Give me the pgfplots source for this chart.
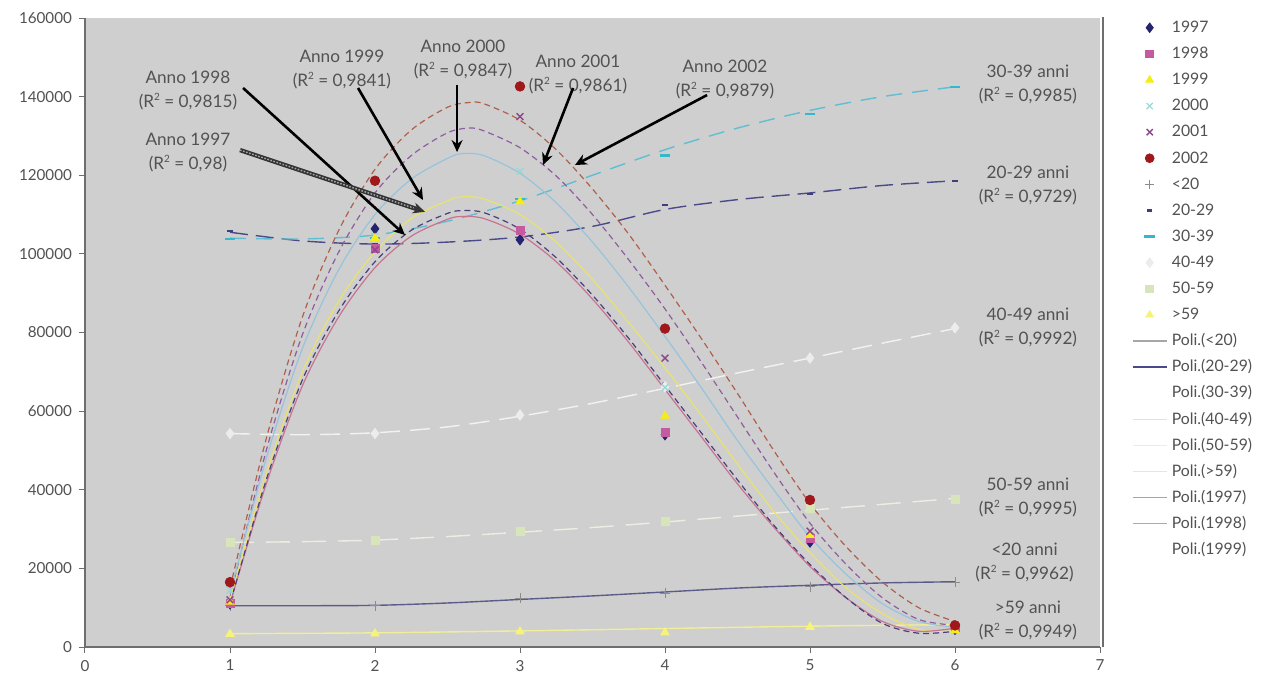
\documentclass[border=0pt]{standalone}
\usepackage{fontspec}
\setmainfont{Lato}
\usepackage{pgfplots}
\pgfplotsset{compat=1.18}
\usetikzlibrary{arrows.meta}

\definecolor{plotgray}{RGB}{207,207,207}
\definecolor{axisgray}{RGB}{110,110,110}
\definecolor{labelgray}{RGB}{82,82,82}
% year markers
\definecolor{c97}{RGB}{36,36,112}
\definecolor{c98}{RGB}{196,90,160}
\definecolor{c99}{RGB}{245,238,20}
\definecolor{c00}{RGB}{150,215,215}
\definecolor{c01}{RGB}{140,70,140}
\definecolor{c02}{RGB}{160,24,28}
% age markers
\definecolor{a20}{RGB}{140,140,140}
\definecolor{a2029}{RGB}{62,62,120}
\definecolor{a3039}{RGB}{50,185,205}
\definecolor{a4049}{RGB}{236,236,236}
\definecolor{a5059}{RGB}{216,228,186}
\definecolor{a59}{RGB}{246,244,120}
% trend lines
\definecolor{t20}{RGB}{92,92,140}
\definecolor{t2029}{RGB}{74,74,138}
\definecolor{t3039}{RGB}{95,190,210}
\definecolor{t4049}{RGB}{242,242,242}
\definecolor{t5059}{RGB}{236,238,228}
\definecolor{t59}{RGB}{240,238,150}
\definecolor{t97}{RGB}{75,62,125}
\definecolor{t98}{RGB}{200,115,145}
\definecolor{t99}{RGB}{232,226,110}
\definecolor{t00}{RGB}{150,196,220}
\definecolor{t01}{RGB}{142,92,160}
\definecolor{t02}{RGB}{176,96,74}

% R squared with a small raised 2
\newcommand{\Rsq}{R\raisebox{0.75ex}{\fontsize{5}{5}\selectfont 2}}

\begin{document}
\begin{tikzpicture}[x=1pt,y=1pt]
\useasboundingbox (-42.5,-17.5) rectangle (588.5,323.5);
\fill[white] (-42.5,-17.5) rectangle (588.5,323.5);
\draw[axisgray, line width=0.8pt] (509,0) -- (509,315);
\begin{axis}[
  at={(0,0)}, anchor=south west,
  scale only axis, width=507.5pt, height=314.5pt,
  xmin=0, xmax=7, ymin=0, ymax=160000,
  xtick={0,1,...,7}, ytick={0,20000,...,160000},
  axis background/.style={fill=plotgray},
  axis x line*=bottom, axis y line*=left,
  axis line style={draw=axisgray, line width=0.6pt, -},
  tick style={axisgray, line width=0.5pt},
  tick align=outside, major tick length=3pt,
  ticklabel style={font=\fontsize{7.6}{9}\selectfont, text=labelgray},
  scaled y ticks=false,
  /pgf/number format/.cd, fixed, precision=0, 1000 sep={}, assume math mode=true,
  /pgfplots/.cd,
  clip mode=individual,
  legend style={at={(1.031,1.002)}, anchor=north west, draw=none, fill=none,
    font=\fontsize{7.9}{10}\selectfont, text=labelgray,
    row sep=2.45pt, inner sep=0pt,
    nodes={inner ysep=1.5pt, inner xsep=2.2pt, text height=6.2pt, text depth=1.4pt}},
  legend cell align=left,
  legend image code/.code={\draw[mark repeat=2,mark phase=2] plot coordinates {(0pt,0pt) (8.5pt,0pt) (17pt,0pt)};},
]

% ---- legend entries ----
\addlegendimage{only marks, mark=diamond*, mark size=2.4pt, color=c97}
\addlegendentry{1997}
\addlegendimage{only marks, mark=square*, mark size=1.9pt, color=c98}
\addlegendentry{1998}
\addlegendimage{only marks, mark=triangle*, mark size=2.2pt, color=c99}
\addlegendentry{1999}
\addlegendimage{only marks, mark=x, mark size=2.2pt, color=c00, line width=0.6pt}
\addlegendentry{2000}
\addlegendimage{only marks, mark=x, mark size=2.2pt, color=c01, line width=0.7pt}
\addlegendentry{2001}
\addlegendimage{only marks, mark=*, mark size=2.2pt, color=c02}
\addlegendentry{2002}
\addlegendimage{only marks, mark=+, mark size=2.4pt, color=a20, line width=0.4pt}
\addlegendentry{<20}
\addlegendimage{only marks, mark=-, mark size=1.3pt, color=a2029, line width=1.2pt}
\addlegendentry{20-29}
\addlegendimage{only marks, mark=-, mark size=2.6pt, color=a3039, line width=1.1pt}
\addlegendentry{30-39}
\addlegendimage{only marks, mark=diamond*, mark size=2.4pt, color=a4049}
\addlegendentry{40-49}
\addlegendimage{only marks, mark=square*, mark size=1.9pt, color=a5059}
\addlegendentry{50-59}
\addlegendimage{only marks, mark=triangle*, mark size=2.2pt, color=a59}
\addlegendentry{>59}
\addlegendimage{no marks, color=gray!70, line width=0.6pt}
\addlegendentry{Poli.(<20)}
\addlegendimage{no marks, color=t2029, line width=0.8pt}
\addlegendentry{Poli.(20-29)}
\addlegendimage{no marks, color=white, line width=0.6pt}
\addlegendentry{Poli.(30-39)}
\addlegendimage{no marks, color=t4049!85!gray, line width=0.6pt}
\addlegendentry{Poli.(40-49)}
\addlegendimage{no marks, color=t5059, line width=0.6pt}
\addlegendentry{Poli.(50-59)}
\addlegendimage{no marks, color=t59, line width=0.6pt}
\addlegendentry{Poli.(>59)}
\addlegendimage{no marks, color=gray!70, line width=0.6pt}
\addlegendentry{Poli.(1997)}
\addlegendimage{no marks, color=t98!50!gray!70, line width=0.6pt}
\addlegendentry{Poli.(1998)}
\addlegendimage{no marks, color=white, line width=0.6pt}
\addlegendentry{Poli.(1999)}

% ---- trend lines for the age groups ----
\addplot[forget plot, no marks, smooth, color=t20, line width=0.7pt]
  coordinates {(1,10500)(1.5,10500)(2,10600)(2.5,11200)(3,12100)(3.5,13000)(4,14000)(4.5,15000)(5,15700)(5.5,16300)(6,16600)};
\addplot[forget plot, no marks, smooth, color=t2029, line width=0.7pt, dash pattern=on 9pt off 4pt]
  coordinates {(1,105500)(1.5,103300)(2,102500)(2.5,103000)(3,104300)(3.5,107000)(4,111300)(4.5,113800)(5,115500)(5.5,117400)(6,118600)};
\addplot[forget plot, no marks, smooth, color=t3039, line width=0.7pt, dash pattern=on 8pt off 5pt]
  coordinates {(1,104000)(1.5,103800)(2,104800)(2.5,108300)(3,113500)(3.5,120000)(4,126500)(4.5,132000)(5,136500)(5.5,140000)(6,142500)};
\addplot[forget plot, no marks, smooth, color=t4049, line width=0.7pt, dash pattern=on 10pt off 5pt]
  coordinates {(1,54300)(1.5,54000)(2,54500)(2.5,56000)(3,58700)(3.5,62000)(4,65800)(4.5,69700)(5,73500)(5.5,77300)(6,81000)};
\addplot[forget plot, no marks, smooth, color=t5059, line width=0.7pt, dash pattern=on 12pt off 6pt]
  coordinates {(1,26600)(1.5,26800)(2,27200)(2.5,28100)(3,29200)(3.5,30400)(4,31800)(4.5,33300)(5,34800)(5.5,36300)(6,37800)};
\addplot[forget plot, no marks, smooth, color=t59, line width=0.7pt]
  coordinates {(1,3400)(2,3600)(3,4100)(4,4700)(5,5300)(6,5700)};

% ---- polynomial trend curves for the years ----
\addplot[forget plot, no marks, smooth, color=t02, line width=0.6pt, densely dashed]
  coordinates {(1,15000)(1.25,53000)(1.5,84000)(1.75,106000)(2,121500)(2.25,131500)(2.5,137300)(2.65,138500)(2.75,138200)(3,134000)(3.25,126500)(3.5,116500)(3.75,105000)(4,92000)(4.25,78500)(4.5,64500)(4.75,50000)(5,36500)(5.25,25500)(5.5,16500)(5.75,10000)(6,6500)};
\addplot[forget plot, no marks, smooth, color=t01, line width=0.6pt, densely dashed]
  coordinates {(1,12500)(1.25,50000)(1.5,79500)(1.75,100500)(2,115500)(2.25,125000)(2.5,130800)(2.65,132000)(2.75,131300)(3,127000)(3.25,119800)(3.5,110000)(3.75,98500)(4,86000)(4.25,72500)(4.5,58500)(4.75,44500)(5,31500)(5.25,21000)(5.5,12500)(5.75,7000)(6,5500)};
\addplot[forget plot, no marks, smooth, color=t00, line width=0.6pt]
  coordinates {(1,13500)(1.25,48000)(1.5,76000)(1.75,96000)(2,110000)(2.25,119000)(2.5,124300)(2.6,125500)(2.75,125000)(3,120500)(3.25,113000)(3.5,103000)(3.75,91500)(4,79000)(4.25,66000)(4.5,52500)(4.75,40000)(5,28000)(5.25,18500)(5.5,11000)(5.75,6500)(6,5000)};
\addplot[forget plot, no marks, smooth, color=t99, line width=0.6pt]
  coordinates {(1,12000)(1.25,44000)(1.5,70000)(1.75,88000)(2,100500)(2.25,109000)(2.5,113500)(2.6,114500)(2.75,114000)(3,110000)(3.25,103000)(3.5,93500)(3.75,82500)(4,71000)(4.25,59000)(4.5,46500)(4.75,34500)(5,24000)(5.25,15000)(5.5,8500)(5.75,4500)(6,4000)};
\addplot[forget plot, no marks, smooth, color=t98, line width=0.6pt]
  coordinates {(1,11000)(1.25,41500)(1.5,66500)(1.75,84000)(2,96500)(2.25,104500)(2.5,108800)(2.6,109500)(2.75,109000)(3,105000)(3.25,98000)(3.5,88500)(3.75,77500)(4,65500)(4.25,53500)(4.5,41500)(4.75,30500)(5,20500)(5.25,12500)(5.5,6500)(5.75,4000)(6,4800)};
\addplot[forget plot, no marks, smooth, color=t97, line width=0.6pt, densely dashed]
  coordinates {(1,11000)(1.25,42500)(1.5,68000)(1.75,85500)(2,98000)(2.25,106000)(2.5,110300)(2.6,111000)(2.75,110500)(3,106300)(3.25,99000)(3.5,89500)(3.75,78500)(4,66500)(4.25,54500)(4.5,42500)(4.75,31000)(5,21000)(5.25,12500)(5.5,6000)(5.75,3500)(6,4000)};

% ---- observed values: age groups ----
\addplot[forget plot, only marks, mark=+, mark size=2.6pt, color=a20, line width=0.4pt]
  coordinates {(1,10500)(2,10500)(3,12400)(4,13700)(5,15300)(6,16500)};
\addplot[forget plot, only marks, mark=-, mark size=1.3pt, color=a2029, line width=1.2pt]
  coordinates {(1,105800)(2,102500)(3,104000)(4,112500)(5,115300)(6,118500)};
\addplot[forget plot, only marks, mark=-, mark size=2.6pt, color=a3039, line width=1.1pt]
  coordinates {(1,103800)(2,104000)(3,114000)(4,125000)(5,135500)(6,142500)};
\addplot[forget plot, only marks, mark=diamond*, mark size=2.6pt, color=a4049]
  coordinates {(1,54300)(2,54300)(3,59000)(4,66200)(5,73500)(6,81200)};
\addplot[forget plot, only marks, mark=square*, mark size=2pt, color=a5059]
  coordinates {(1,26600)(2,27200)(3,29500)(4,32000)(5,35300)(6,37500)};
\addplot[forget plot, only marks, mark=triangle*, mark size=2.4pt, color=a59]
  coordinates {(1,3300)(2,3400)(3,3900)(4,3700)(5,5100)(6,4800)};

% ---- observed values: years ----
\addplot[forget plot, only marks, mark=x, mark size=2.4pt, color=c00, line width=0.6pt]
  coordinates {(1,14500)(2,104500)(3,121000)(4,66000)(5,28000)(6,5000)};
\addplot[forget plot, only marks, mark=diamond*, mark size=2.6pt, color=c97]
  coordinates {(1,11000)(2,106400)(3,103600)(4,54000)(5,26700)(6,4500)};
\addplot[forget plot, only marks, mark=square*, mark size=2pt, color=c98]
  coordinates {(1,11000)(2,101500)(3,105900)(4,54700)(5,27700)(6,5000)};
\addplot[forget plot, only marks, mark=triangle*, mark size=2.4pt, color=c99]
  coordinates {(1,11500)(2,104000)(3,113300)(4,58800)(5,28500)(6,4200)};
\addplot[forget plot, only marks, mark=x, mark size=2.4pt, color=c01, line width=0.7pt]
  coordinates {(1,12000)(2,101000)(3,134900)(4,73500)(5,29500)(6,5500)};
\addplot[forget plot, only marks, mark=*, mark size=2.4pt, color=c02]
  coordinates {(1,16500)(2,118600)(3,142600)(4,81000)(5,37400)(6,5500)};

% ---- labels of the fitted curves ----
\tikzset{lab/.style={align=center, font=\fontsize{8.6}{12}\selectfont, text=labelgray, inner sep=0pt}}
\node[lab] at (axis cs:0.710,141600) {Anno 1998\\(\Rsq\ = 0,9815)};
\node[lab] at (axis cs:0.710,125800) {Anno 1997\\(\Rsq\ = 0,98)};
\node[lab] at (axis cs:1.772,147000) {Anno 1999\\(\Rsq\ = 0,9841)};
\node[lab] at (axis cs:2.607,149500) {Anno 2000\\(\Rsq\ = 0,9847)};
\node[lab] at (axis cs:3.400,145700) {Anno 2001\\(\Rsq\ = 0,9861)};
\node[lab] at (axis cs:4.414,144400) {Anno 2002\\(\Rsq\ = 0,9879)};
\node[lab] at (axis cs:6.503,143100) {30-39 anni\\(\Rsq\ = 0,9985)};
\node[lab] at (axis cs:6.503,117400) {20-29 anni\\(\Rsq\ = 0,9729)};
\node[lab] at (axis cs:6.503,81300) {40-49 anni\\(\Rsq\ = 0,9992)};
\node[lab] at (axis cs:6.503,38100) {50-59 anni\\(\Rsq\ = 0,9995)};
\node[lab] at (axis cs:6.480,21500) {<20 anni\\(\Rsq\ = 0,9962)};
\node[lab] at (axis cs:6.503,6800) {>59 anni\\(\Rsq\ = 0,9949)};

% ---- arrows pointing at the curves ----
\tikzset{arr/.style={-{Stealth[length=6pt, width=5.5pt]}, line width=1.3pt, black}}
\draw[arr] (axis cs:1.090,142200) -- (axis cs:2.207,104800);
\draw[-{Stealth[length=6pt, width=5.5pt]}, line width=2.2pt, black!80] (axis cs:1.069,126400) -- (axis cs:2.345,110700);
\draw[line width=0.7pt, gray!70, dash pattern=on 0.8pt off 0.8pt, shorten >=6pt] (axis cs:1.069,126400) -- (axis cs:2.345,110700);
\draw[arr] (axis cs:1.883,142200) -- (axis cs:2.331,113700);
\draw[arr] (axis cs:2.566,143000) -- (axis cs:2.566,125900);
\draw[arr] (axis cs:3.366,142200) -- (axis cs:3.159,122600);
\draw[arr] (axis cs:4.290,140400) -- (axis cs:3.379,122600);
\end{axis}
\end{tikzpicture}
\end{document}
